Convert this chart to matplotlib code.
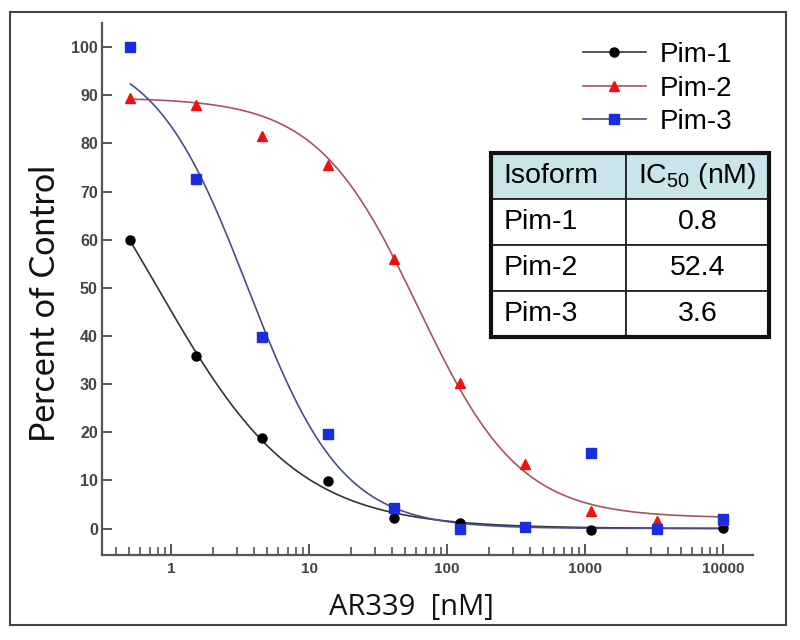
import numpy as np
import matplotlib
matplotlib.use("Agg")
import matplotlib.pyplot as plt
from matplotlib.patches import Rectangle
from matplotlib.ticker import LogLocator, NullFormatter

plt.rcParams['font.family'] = ['Liberation Sans', 'DejaVu Sans']
plt.rcParams['mathtext.default'] = 'regular'

# ---- data ----
conc = [0.508, 1.52, 4.57, 13.7, 41.2, 123.5, 370.4, 1111.1, 3333.3, 10000]
pim1 = [60.0, 35.8, 18.8, 9.8, 2.1, 1.2, 0.3, -0.3, 0.0, 0.1]
pim2 = [89.5, 88.0, 81.5, 75.5, 56.0, 30.3, 13.4, 3.7, 1.5, 1.8]
pim3 = [100.0, 72.6, 39.8, 19.6, 4.3, -0.2, 0.3, 15.6, -0.2, 2.0]

# fitted curve parameters (top, bottom, IC50 of curve, hill)
fit1 = (100.0, 0.0, 0.8, 0.86)
fit2 = (89.5, 2.2, 62.0, 1.18)
fit3 = (100.0, 0.0, 3.6, 1.27)

series_names = ["Pim-1", "Pim-2", "Pim-3"]
table_header = ["Isoform", "IC$_{50}$ (nM)"]
table_isoforms = ["Pim-1", "Pim-2", "Pim-3"]
table_ic50 = ["0.8", "52.4", "3.6"]

xticks = [1, 10, 100, 1000, 10000]
yticks = [0, 10, 20, 30, 40, 50, 60, 70, 80, 90, 100]


def fourpl(x, p):
    top, bottom, ic50, h = p
    return bottom + (top - bottom) / (1 + (x / ic50) ** h)


fig = plt.figure(figsize=(8, 6.4), dpi=100)
W, H = 800, 640
ax = fig.add_axes([102 / W, 1 - 555 / H, (753 - 102) / W, (555 - 23) / H])

xs = np.logspace(np.log10(conc[0]), np.log10(conc[-1]), 400)
styles = [
    (pim1, fit1, 'black', '#333333', 'o', 6.5),
    (pim2, fit2, '#ee1111', '#a5555f', '^', 7.5),
    (pim3, fit3, '#1a2ee0', '#48508a', 's', 6.5),
]
handles = []
for (vals, fit, mc, lc, mk, ms), name in zip(styles, series_names):
    ax.plot(xs, fourpl(xs, fit), color=lc, lw=1.2, zorder=2)
    ax.plot(conc, vals, linestyle='none', marker=mk, color=mc, ms=ms, zorder=3)
    h, = ax.plot([], [], color=lc, lw=1.2, marker=mk, mfc=mc, mec=mc, ms=ms)
    handles.append(h)

ax.set_xscale('log')
ax.set_xlim(0.316, 16500)
ax.set_ylim(-5.5, 105)
ax.set_xticks(xticks)
ax.set_xticklabels([str(t) for t in xticks])
ax.xaxis.set_minor_locator(LogLocator(base=10, subs=np.arange(2, 10)))
ax.xaxis.set_minor_formatter(NullFormatter())
ax.set_yticks(yticks)
ax.set_yticklabels([str(t) for t in yticks])

for s in ['top', 'right']:
    ax.spines[s].set_visible(False)
for s in ['left', 'bottom']:
    ax.spines[s].set_color('#555555')
    ax.spines[s].set_linewidth(1.6)

ax.tick_params(axis='y', direction='in', length=7, width=1.4, color='#555555',
               labelsize=11.5, labelcolor='#444444', pad=3)
ax.tick_params(axis='x', which='major', direction='in', length=8, width=1.4,
               color='#555555', labelsize=11, labelcolor='#444444', pad=5)
ax.tick_params(axis='x', which='minor', direction='in', length=6, width=1.2,
               color='#555555')
for lab in ax.get_xticklabels() + ax.get_yticklabels():
    lab.set_fontweight('bold')

fig.text(45 / W, 1 - 303 / H, "Percent of Control", rotation=90, ha='center',
         va='center', fontsize=24.5, family=['Lato', 'DejaVu Sans'], color='#111111')
fig.text(411.5 / W, 1 - 607 / H, "AR339  [nM]", ha='center', va='center',
         fontsize=21, family=['Open Sans', 'DejaVu Sans'], color='#111111')

leg = fig.legend(handles, series_names, loc='upper left',
                 bbox_to_anchor=(583 / W, 1 - 42 / H), frameon=False,
                 fontsize=20, handlelength=2.25, handletextpad=0.5,
                 labelspacing=0.27, borderpad=0, borderaxespad=0)

# table
tb = [(491 - 102) / 651, (555 - 337) / 532, (769 - 491) / 651, (337 - 153) / 532]
tbl = ax.table(cellText=[[a, b] for a, b in zip(table_isoforms, table_ic50)],
               colLabels=table_header,
               cellLoc='center', colLoc='center',
               bbox=tb, colWidths=[135, 143])
tbl.auto_set_font_size(False)
tbl.set_fontsize(20.5)
for (r, c), cell in tbl.get_celld().items():
    cell.set_edgecolor('#222222')
    cell.set_linewidth(1.3)
    if r == 0:
        cell.set_facecolor('#c9e5e9')
    if c == 0:
        cell._loc = 'left'
        cell.PAD = 0.09
        cell.get_text().set_ha('left')
tbl.set_zorder(5)
outer = Rectangle((tb[0], tb[1]), tb[2], tb[3],
                  transform=ax.transAxes, fill=False, lw=3.0, edgecolor='#111111',
                  clip_on=False, zorder=6)
ax.add_patch(outer)

fig.add_artist(Rectangle((10 / W, 1 - 625 / H), 776 / W, 613 / H, transform=fig.transFigure,
                         fill=False, lw=1.5, edgecolor='#444444'))

fig.savefig('out.png', dpi=100)
